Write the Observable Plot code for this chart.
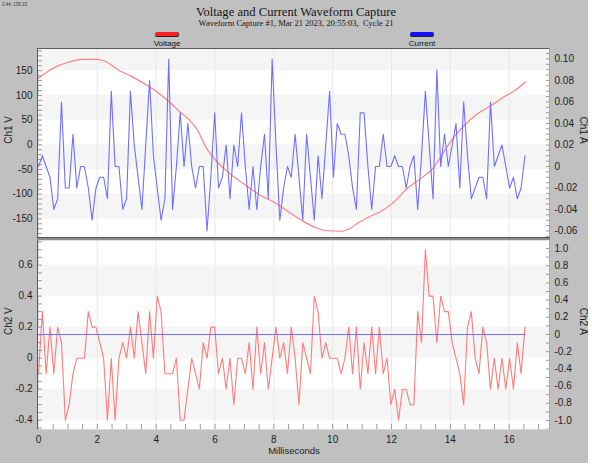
<!DOCTYPE html>
<html>
<head>
<meta charset="utf-8">
<script src="https://cdn.jsdelivr.net/npm/d3@7"></script>
<script src="https://cdn.jsdelivr.net/npm/@observablehq/plot@0.6"></script>
<style>
  html, body { margin: 0; padding: 0; background: #ffffff; }
  #wrap { position: relative; width: 592px; height: 467px; background: #c0c0c0; overflow: hidden;
          font-family: "Liberation Sans", Arial, sans-serif; }
  .abs { position: absolute; }
  #coord { left: 2px; top: 2px; font-size: 4.5px; line-height: 5px; color: #333; }
  #title { left: 0; width: 592px; top: 4.5px; text-align: center; font-family: "Liberation Serif", "Times New Roman", serif;
           font-size: 12.6px; line-height: 14px; color: #161616; }
  #sub { left: 0; width: 592px; top: 19px; text-align: center; font-family: "Liberation Serif", "Times New Roman", serif;
         font-size: 8.5px; line-height: 9px; color: #161616; white-space: pre; }
  .sw { height: 4px; width: 23px; border-radius: 2px; border-bottom: 1.5px solid #222; border-right: 1px solid #333; }
  .lg { font-size: 8px; line-height: 8px; color: #111; text-align: center; width: 60px; }
  #frameTL { left: 37px; top: 47.5px; width: 513px; height: 382px; box-sizing: border-box;
             border-left: 1.6px solid #5c5c5c; border-top: 1.6px solid #5c5c5c; border-right: 1px solid #a8a8a8; border-bottom: 1px solid #d8d8d8; }
  #sep { left: 37px; top: 237.4px; width: 513px; height: 2.6px; background: #8c8c8c; border-top: 0.6px solid #555; box-sizing: border-box; }
  #edgeR { left: 588px; top: 0; width: 4px; height: 467px; background: #fff; }
  #edgeB { left: 0; top: 463px; width: 592px; height: 4px; background: #fff; }
  svg { position: absolute; left: 0; }
</style>
</head>
<body>
<div id="wrap">
  <div class="abs" id="coord">2.44, 135.10</div>
  <div class="abs" id="title">Voltage and Current Waveform Capture</div>
  <div class="abs" id="sub">Waveform Capture #1, Mar 21 2023, 20:55:03,  Cycle 21</div>
  <div class="abs sw" style="left:155px; top:32px; background:#ff2020;"></div>
  <div class="abs lg" style="left:137px; top:40px;">Voltage</div>
  <div class="abs sw" style="left:410px; top:32px; background:#1010ff;"></div>
  <div class="abs lg" style="left:392px; top:40px;">Current</div>
</div>
<script>
// ---------------- data ----------------
const sampleIntervalMs = 0.1302;   // 128 samples per cycle

// Top panel, Ch1 current (A), one value per sample
const ch1Current = [
  0.00, 0.01, 0.00,-0.01,-0.04,-0.03, 0.06,-0.02,-0.02, 0.03,
 -0.02, 0.00, 0.00,-0.02,-0.05,-0.02,-0.01,-0.01,-0.03, 0.07,
  0.00, 0.00,-0.04,-0.03, 0.07, 0.02,-0.01,-0.04, 0.02, 0.08,
  0.01,-0.02,-0.05,-0.03, 0.10,-0.04, 0.00, 0.05, 0.00, 0.04,
  0.00,-0.02, 0.00, 0.00,-0.06,-0.01, 0.05,-0.02,-0.01, 0.02,
 -0.03, 0.02, 0.00, 0.05, 0.00,-0.04, 0.00,-0.04, 0.00, 0.03,
 -0.03, 0.10, 0.02,-0.05,-0.02, 0.00,-0.01, 0.03,-0.01,-0.05,
  0.03,-0.01,-0.05, 0.01,-0.03, 0.02, 0.07,-0.01, 0.04, 0.03,
  0.03, 0.01,-0.02,-0.04, 0.05, 0.05, 0.00,-0.04, 0.00, 0.00,
  0.03, 0.00, 0.00, 0.01, 0.00, 0.00,-0.02, 0.00, 0.01,-0.04,
  0.01, 0.07, 0.02,-0.03, 0.09, 0.00, 0.03, 0.00, 0.02, 0.04,
 -0.02, 0.06, 0.01,-0.03,-0.02,-0.01,-0.01,-0.03, 0.06, 0.00,
  0.01, 0.02, 0.00,-0.02,-0.01,-0.03,-0.02, 0.01
];

// Top panel, Ch1 voltage (V), read at a coarser set of times (ms)
const ch1VoltTimes = [0, 0.5, 1.0, 1.5, 2.0, 2.3, 2.7, 3.2, 3.7, 4.1, 4.5, 4.8, 5.1, 5.4, 5.7,
  6.1, 6.5, 7.0, 7.5, 8.0, 8.5, 9.0, 9.4, 9.8, 10.3, 10.6, 10.9, 11.3, 11.6, 12.1, 12.5,
  13.0, 13.4, 13.7, 14.0, 14.5, 14.9, 15.4, 15.8, 16.2, 16.55];
const ch1Volt = [135, 155, 167, 173, 173, 168, 152, 137, 120, 104, 84, 67, 52, 30, -6,
  -36, -58, -80, -101, -116, -136, -155, -167, -174, -175, -169, -157, -144, -136, -115, -90,
  -68, -48, -22, 6, 41, 62, 80, 96, 110, 127];

// Bottom panel, Ch2 voltage (V), one value per sample
const ch2Voltage = [
 -0.1, 0.3,-0.1, 0.2,-0.1, 0.2, 0.1,-0.4,-0.3,-0.1,
  0.0, 0.0, 0.0, 0.3, 0.2, 0.2, 0.1, 0.0,-0.4, 0.0,
 -0.4, 0.0, 0.1, 0.0, 0.2, 0.0, 0.3, 0.1,-0.1, 0.3,
  0.0, 0.4, 0.3,-0.1,-0.1,-0.1, 0.0,-0.4,-0.4,-0.2,
  0.0,-0.1,-0.2, 0.1, 0.0, 0.2, 0.2,-0.1, 0.0,-0.2,
  0.0,-0.3, 0.0, 0.0,-0.1, 0.1,-0.2, 0.2,-0.1, 0.1,
 -0.2, 0.0, 0.2, 0.0, 0.1,-0.1, 0.2, 0.0,-0.3, 0.1,
  0.0,-0.1, 0.4, 0.3, 0.0, 0.1, 0.0, 0.0, 0.0,-0.1,
  0.0, 0.2,-0.1, 0.2,-0.2, 0.1,-0.1, 0.2,-0.1, 0.2,
 -0.1, 0.0,-0.3,-0.2,-0.4,-0.2,-0.2,-0.3,-0.3, 0.3,
  0.1, 0.7, 0.4, 0.4, 0.1, 0.4, 0.3, 0.3, 0.1, 0.0,
 -0.1,-0.3, 0.2, 0.3, 0.0,-0.1, 0.2, 0.1,-0.2, 0.0,
 -0.2, 0.0,-0.2, 0.0,-0.2, 0.1,-0.1, 0.2
];

// Bottom panel, Ch2 current (A): flat
const ch2CurrentTimes = [0, 16.54];
const ch2Current = [0, 0];

// tick labels
const msTicks = [0, 2, 4, 6, 8, 10, 12, 14, 16];
const ch1VTicks = [-150, -100, -50, 0, 50, 100, 150];
const ch1ATicks = [-0.06, -0.04, -0.02, 0, 0.02, 0.04, 0.06, 0.08, 0.10];
const ch2VTicks = [-0.4, -0.2, 0, 0.2, 0.4, 0.6];
const ch2ATicks = [-1.0, -0.8, -0.6, -0.4, -0.2, 0, 0.2, 0.4, 0.6, 0.8, 1.0];

// shaded bands
const ch1VBands = [{lo: 150, hi: 200}, {lo: 50, hi: 100}, {lo: -50, hi: 0}, {lo: -150, hi: -100}];
const ch2VBands = [{lo: 0.4, hi: 0.6}, {lo: 0, hi: 0.2}, {lo: -0.4, hi: -0.2}];

// minor tick positions
const msMinor = d3.range(0.5, 17.1, 0.5);
const ch1VMinor = d3.range(-180, 191, 10);
const ch1AMinor = d3.range(-0.065, 0.106, 0.005);
const ch2VMinor = d3.range(-0.45, 0.76, 0.05);
const ch2AMinor = d3.range(-1.1, 1.01, 0.1);

// ---------------- helpers ----------------
const W = 592, ML = 38, MR = 43;
const xDomain = [0, 17.37];
const hy = v => (v < 0 ? "-" : "");
const fmtInt = d => hy(d) + Math.abs(d);
const fmt1 = d => Math.abs(d) < 1e-9 ? "0" : hy(d) + Math.abs(d).toFixed(1);
const fmt2 = d => Math.abs(d) < 1e-9 ? "0" : hy(d) + Math.abs(d).toFixed(2);
const style = {background: "transparent", fontFamily: "'Liberation Sans', Arial, sans-serif", fontSize: "10px", color: "#1e1e1e", overflow: "visible"};
const tickCol = "#9a9a9a";
const bandCol = "#f5f5f5";
const blank = () => "";

const wrap = document.getElementById("wrap");
function place(svg, top) { svg.style.top = top + "px"; svg.style.left = "0px"; wrap.appendChild(svg); }

const ch1CurrentRows = ch1Current.map((v, i) => ({t: i * sampleIntervalMs, v}));
const ch2VoltageRows = ch2Voltage.map((v, i) => ({t: i * sampleIntervalMs, v}));
const ch1VoltRows = ch1VoltTimes.map((t, i) => ({t, v: ch1Volt[i]}));
const ch2CurrentRows = ch2CurrentTimes.map((t, i) => ({t, v: ch2Current[i]}));

// ---------------- top panel ----------------
const topOpts = {width: W, height: 200, marginTop: 9, marginBottom: 2.5, marginLeft: ML, marginRight: MR, style};
const topL = Plot.plot({
  ...topOpts,
  x: {domain: xDomain, axis: null},
  y: {domain: [-188.7, 192.9], axis: null},
  marks: [
    Plot.frame({fill: "#ffffff", stroke: "none"}),
    Plot.rect(ch1VBands, {y1: "lo", y2: "hi", fill: bandCol, clip: true}),
    Plot.ruleX(msTicks.slice(1), {stroke: "#e8e8e8"}),
    Plot.line(ch1VoltRows, {x: "t", y: "v", stroke: "#ff8080", strokeWidth: 1.2, curve: "monotone-x"}),
    Plot.axisY(ch1VTicks, {anchor: "left", tickSize: 0, tickPadding: 6, tickFormat: fmtInt, label: null}),
    Plot.axisY(ch1VMinor, {anchor: "left", tickSize: -4, tickFormat: blank, label: null, stroke: tickCol}),
    Plot.text(["Ch1 V"], {frameAnchor: "left", rotate: -90, dx: -29.5, fontSize: 10})
  ]
});
place(topL, 40);

const topR = Plot.plot({
  ...topOpts,
  x: {domain: xDomain, axis: null},
  y: {domain: [-0.0665, 0.1088], axis: null},
  marks: [
    Plot.line(ch1CurrentRows, {x: "t", y: "v", stroke: "#7070ff", strokeWidth: 1.1}),
    Plot.axisY(ch1ATicks, {anchor: "right", tickSize: 0, tickPadding: 5, tickFormat: fmt2, label: null}),
    Plot.axisY(ch1AMinor, {anchor: "right", tickSize: -4, tickFormat: blank, label: null, stroke: tickCol}),
    Plot.text(["Ch1 A"], {frameAnchor: "right", rotate: 90, dx: 34, fontSize: 10})
  ]
});
place(topR, 40);

// ---------------- bottom panel ----------------
const botOpts = {width: W, height: 233, marginTop: 10, marginBottom: 34, marginLeft: ML, marginRight: MR, style};
const botL = Plot.plot({
  ...botOpts,
  x: {domain: xDomain, axis: null},
  y: {domain: [-0.46, 0.759], axis: null},
  marks: [
    Plot.frame({fill: "#ffffff", stroke: "none"}),
    Plot.rect(ch2VBands, {y1: "lo", y2: "hi", fill: bandCol, clip: true}),
    Plot.ruleX(msTicks.slice(1), {stroke: "#e8e8e8"}),
    Plot.line(ch2VoltageRows, {x: "t", y: "v", stroke: "#ff7c7c", strokeWidth: 1.1}),
    Plot.axisY(ch2VTicks, {anchor: "left", tickSize: 0, tickPadding: 6, tickFormat: fmt1, label: null}),
    Plot.axisY(ch2VMinor, {anchor: "left", tickSize: -4, tickFormat: blank, label: null, stroke: tickCol}),
    Plot.axisX(msTicks, {anchor: "bottom", tickSize: 0, tickPadding: 6.5, tickFormat: d => String(d), label: null}),
    Plot.axisX(msMinor, {anchor: "bottom", tickSize: -5, tickFormat: blank, label: null, stroke: tickCol}),
    Plot.text(["Ch2 V"], {frameAnchor: "left", rotate: -90, dx: -29.5, fontSize: 10}),
    Plot.text(["Milliseconds"], {frameAnchor: "bottom", dy: 24.5, fontSize: 9.5})
  ]
});
place(botL, 230);

const botR = Plot.plot({
  ...botOpts,
  x: {domain: xDomain, axis: null},
  y: {domain: [-1.105, 1.093], axis: null},
  marks: [
    Plot.line(ch2CurrentRows, {x: "t", y: "v", stroke: "#7070ff", strokeWidth: 1.1}),
    Plot.axisY(ch2ATicks, {anchor: "right", tickSize: 0, tickPadding: 5, tickFormat: fmt1, label: null}),
    Plot.axisY(ch2AMinor, {anchor: "right", tickSize: -4, tickFormat: blank, label: null, stroke: tickCol}),
    Plot.text(["Ch2 A"], {frameAnchor: "right", rotate: 90, dx: 34, fontSize: 10})
  ]
});
place(botR, 230);

// frame decorations on top
for (const id of ["frameTL", "sep", "edgeR", "edgeB"]) {
  const d = document.createElement("div");
  d.id = id; d.className = "abs";
  wrap.appendChild(d);
}
</script>
</body>
</html>
